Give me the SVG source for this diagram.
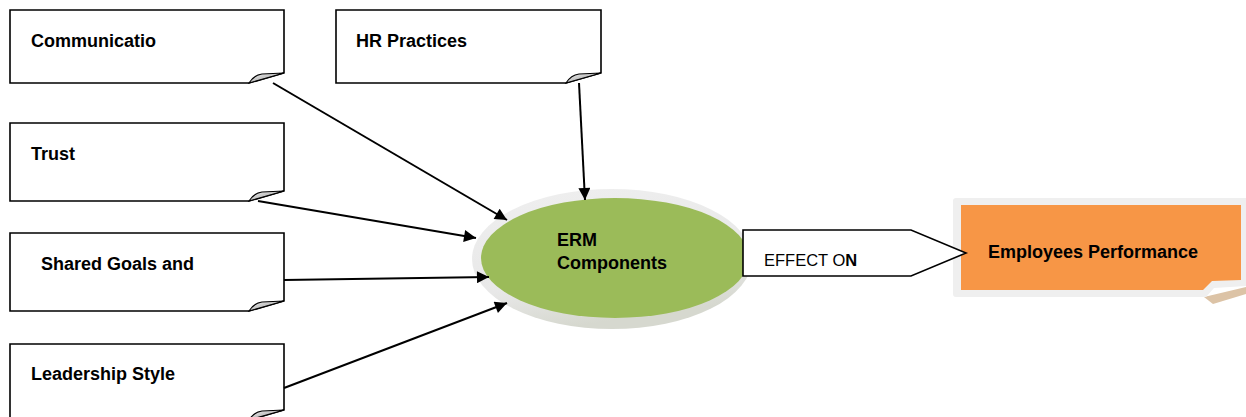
<svg xmlns="http://www.w3.org/2000/svg" width="1246" height="417" viewBox="0 0 1246 417">
  <defs>
    <style>
      .box { fill: #ffffff; stroke: #000000; stroke-width: 1.6; stroke-linejoin: miter; }
      .fold { fill: url(#foldGrad); stroke: #000000; stroke-width: 1.2; }
      .label { font-family: "Liberation Sans", Arial, sans-serif; font-weight: bold; font-size: 18px; fill: #000000; }
      .conn { stroke: #000000; stroke-width: 2; fill: none; marker-end: url(#arrow); }
    </style>
    <linearGradient id="foldGrad" x1="0" y1="0" x2="1" y2="1">
      <stop offset="0" stop-color="#f2f2f2"/>
      <stop offset="1" stop-color="#8c8c8c"/>
    </linearGradient>
    <linearGradient id="ringGrad" x1="0" y1="0" x2="0.3" y2="1">
      <stop offset="0" stop-color="#efefef"/>
      <stop offset="0.7" stop-color="#e8e8e8"/>
      <stop offset="1" stop-color="#d6d8cf"/>
    </linearGradient>
    <marker id="arrow" viewBox="0 0 10 10" refX="10" refY="5" markerWidth="16" markerHeight="12" markerUnits="userSpaceOnUse" orient="auto">
      <path d="M0,0 L10,5 L0,10 Z" fill="#000000"/>
    </marker>
  </defs>

  <!-- source boxes with folded corner -->
  <g id="communication">
    <path class="box" d="M10,10 H284 V73 L249,83 H10 Z"/>
    <path class="fold" d="M249,83 Q254,75 262,74 L284,73 Z"/>
    <text class="label" x="31" y="47">Communicatio</text>
  </g>

  <g id="hr-practices">
    <path class="box" d="M336,10 H601 V73 L566,83 H336 Z"/>
    <path class="fold" d="M566,83 Q571,75 579,74 L601,73 Z"/>
    <text class="label" x="356" y="47">HR Practices</text>
  </g>

  <g id="trust">
    <path class="box" d="M10,123 H284 V191 L249,201 H10 Z"/>
    <path class="fold" d="M249,201 Q254,193 262,192 L284,191 Z"/>
    <text class="label" x="31" y="160">Trust</text>
  </g>

  <g id="shared-goals">
    <path class="box" d="M10,233 H284 V301 L249,311 H10 Z"/>
    <path class="fold" d="M249,311 Q254,303 262,302 L284,301 Z"/>
    <text class="label" x="41" y="270">Shared Goals and</text>
  </g>

  <g id="leadership-style">
    <path class="box" d="M10,344 H284 V410 L249,420 H10 Z"/>
    <path class="fold" d="M249,420 Q254,412 262,411 L284,410 Z"/>
    <text class="label" x="31" y="380">Leadership Style</text>
  </g>

  <!-- central ellipse -->
  <g id="erm-components">
    <ellipse cx="612" cy="259" rx="140" ry="70" fill="url(#ringGrad)"/>
    <ellipse cx="615" cy="258" rx="134" ry="60" fill="#9bbb59"/>
    <text class="label" x="557" y="246">ERM</text>
    <text class="label" x="557" y="269">Components</text>
  </g>

  <!-- outcome box -->
  <g id="employees-performance">
    <path d="M1204,297 L1246,287 V294 L1213,304 Z" fill="#dcc3a6"/>
    <path d="M953,201 Q953,198 956,198 H1246 V286 L1214,288 L1206,297 H956 Q953,297 953,294 Z" fill="#efefef"/>
    <path d="M961,205 H1241 V280 L1212,281 L1203,290 H961 Z" fill="#f79646"/>
    <text class="label" x="988" y="258">Employees Performance</text>
  </g>

  <!-- pentagon arrow label -->
  <g id="effect-on">
    <path d="M743,230 H911 L966,253 L911,276 H743 Z" fill="#ffffff" stroke="#000000" stroke-width="1.6"/>
    <text x="764" y="266" font-family="Liberation Sans, Arial, sans-serif" font-size="16.5" fill="#000000">EFFECT O<tspan font-weight="bold">N</tspan></text>
  </g>

  <!-- connectors -->
  <g id="connectors">
    <line class="conn" x1="273" y1="83" x2="507" y2="220"/>
    <line class="conn" x1="579" y1="83" x2="585" y2="200"/>
    <line class="conn" x1="258" y1="201" x2="476" y2="238"/>
    <line class="conn" x1="284" y1="280" x2="489" y2="277"/>
    <line class="conn" x1="284" y1="388" x2="507" y2="303"/>
  </g>
</svg>
